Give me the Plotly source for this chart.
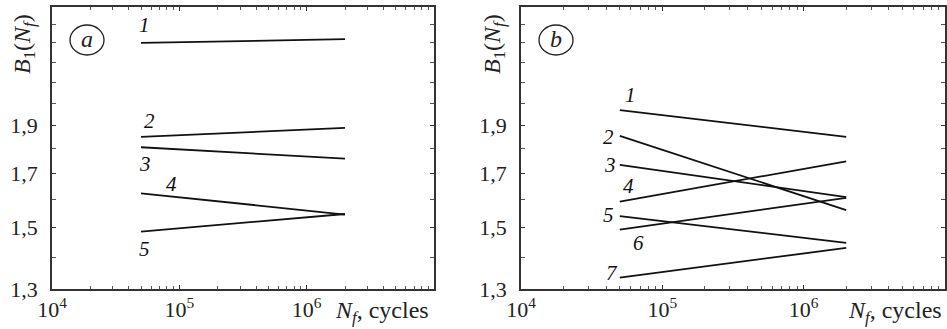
import numpy as np
import plotly.graph_objects as go

# ---------------- data ----------------
N_start = 5e4
N_end = 2e6
N_points = [N_start, N_end]

# panel a : B1 at N=5e4 and N=2e6
a_names = ["1", "2", "3", "4", "5"]
a_start = [2.30, 1.850, 1.806, 1.623, 1.485]
a_end = [2.32, 1.889, 1.759, 1.545, 1.547]

# panel b
b_names = ["1", "2", "3", "4", "5", "6", "7"]
b_start = [1.968, 1.854, 1.734, 1.592, 1.539, 1.492, 1.335]
b_end = [1.850, 1.561, 1.609, 1.748, 1.447, 1.606, 1.430]

y_labels = [1.3, 1.5, 1.7, 1.9]
y_label_text = ["1,3", "1,5", "1,7", "1,9"]
y_minor = [1.4, 1.6, 1.8, 2.0, 2.1, 2.2, 2.3, 2.4]
x_labels = [1e4, 1e5, 1e6]
x_label_text = ["10<sup>4</sup>", "10<sup>5</sup>", "10<sup>6</sup>"]

# label positions (data coords) for curve numbers
a_lab_x = [5.37e4, 5.78e4, 5.37e4, 8.64e4, 5.37e4]
a_lab_y = [2.398, 1.919, 1.737, 1.658, 1.427]
b_lab_x = [5.93e4, 4.14e4, 4.28e4, 5.74e4, 4.14e4, 6.76e4, 4.42e4]
b_lab_y = [2.039, 1.849, 1.733, 1.651, 1.543, 1.446, 1.349]

W, H = 947, 329
FONT = "'Liberation Serif', 'Times New Roman', Times, 'DejaVu Serif', serif"

fig = go.Figure()

def px_x(x):
    return x / W

def px_y(y):
    return 1 - y / H

domA = [px_x(52), px_x(434)]
domB = [px_x(521), px_x(945)]
domY = [px_y(289), px_y(7)]

for i, n in enumerate(a_names):
    fig.add_trace(go.Scatter(x=N_points, y=[a_start[i], a_end[i]], mode="lines",
                             line=dict(color="#111", width=1.8), xaxis="x", yaxis="y",
                             showlegend=False, hoverinfo="skip"))
for i, n in enumerate(b_names):
    fig.add_trace(go.Scatter(x=N_points, y=[b_start[i], b_end[i]], mode="lines",
                             line=dict(color="#111", width=1.8), xaxis="x2", yaxis="y2",
                             showlegend=False, hoverinfo="skip"))

x_minor = [m * 10 ** e for e in (4, 5, 6) for m in range(2, 10)]

def xax(dom, anchor):
    return dict(type="log", range=[4, 7], domain=dom, anchor=anchor, automargin=False,
                showline=True, linecolor="#333", linewidth=1.5, mirror="ticks",
                ticks="inside", ticklen=4, tickcolor="#333",
                tickvals=x_labels, ticktext=x_label_text,
                tickfont=dict(family=FONT, size=22, color="#222"),
                showgrid=False, zeroline=False,
                minor=dict(tickvals=x_minor, ticks="inside", ticklen=3, tickcolor="#555", showgrid=False))

def yax(anchor):
    return dict(type="log", range=[np.log10(1.3), np.log10(2.5)], domain=domY, anchor=anchor,
                automargin=False,
                showline=True, linecolor="#333", linewidth=1.5, mirror="ticks",
                ticks="inside", ticklen=4, tickcolor="#333",
                tickvals=y_labels, ticktext=y_label_text,
                tickfont=dict(family=FONT, size=22, color="#222"),
                showgrid=False, zeroline=False, ticklabelstandoff=8,
                minor=dict(tickvals=y_minor, ticks="inside", ticklen=4, tickcolor="#555", showgrid=False))

fig.update_layout(
    width=W, height=H, margin=dict(l=0, r=0, t=0, b=0, autoexpand=False),
    paper_bgcolor="white", plot_bgcolor="white",
    font=dict(family=FONT, size=20, color="#222"),
    xaxis=xax(domA, "y"), yaxis=yax("x"),
    xaxis2=xax(domB, "y2"), yaxis2=yax("x2"),
)

ann = []
for i, n in enumerate(a_names):
    ann.append(dict(x=np.log10(a_lab_x[i]), y=np.log10(a_lab_y[i]), xref="x", yref="y",
                    xanchor="center", yanchor="middle",
                    text=f"<i>{n}</i>", showarrow=False, font=dict(family=FONT, size=21, color="#111")))
for i, n in enumerate(b_names):
    ann.append(dict(x=np.log10(b_lab_x[i]), y=np.log10(b_lab_y[i]), xref="x2", yref="y2",
                    xanchor="center", yanchor="middle",
                    text=f"<i>{n}</i>", showarrow=False, font=dict(family=FONT, size=21, color="#111")))

ytitle = "<i>B</i><sub>1</sub>(<i>N<sub>f</sub></i>)"
for xc in (24, 494):
    ann.append(dict(x=px_x(xc), y=px_y(44), xref="paper", yref="paper", text=ytitle,
                    xanchor="center", yanchor="middle",
                    textangle=-90, showarrow=False, font=dict(family=FONT, size=24, color="#222")))
for xc in (382, 895):
    ann.append(dict(x=px_x(xc), y=px_y(312), xref="paper", yref="paper",
                    xanchor="center", yanchor="middle",
                    text="<i>N<sub>f</sub></i>, cycles", showarrow=False,
                    font=dict(family=FONT, size=24, color="#222")))

shapes = []
for cx, letter in ((87, "a"), (556, "b")):
    shapes.append(dict(type="circle", xref="paper", yref="paper",
                       x0=px_x(cx - 17), x1=px_x(cx + 17), y0=px_y(55), y1=px_y(25),
                       line=dict(color="#222", width=1.3)))
    ann.append(dict(x=px_x(cx), y=px_y(39), xref="paper", yref="paper", text=f"<i>{letter}</i>",
                    xanchor="center", yanchor="middle",
                    showarrow=False, font=dict(family=FONT, size=24, color="#222")))

fig.update_layout(annotations=ann, shapes=shapes)
fig.write_html("out.html", config={"displayModeBar": False},
               post_script="document.body.style.margin='0';document.body.style.overflow='hidden';")
